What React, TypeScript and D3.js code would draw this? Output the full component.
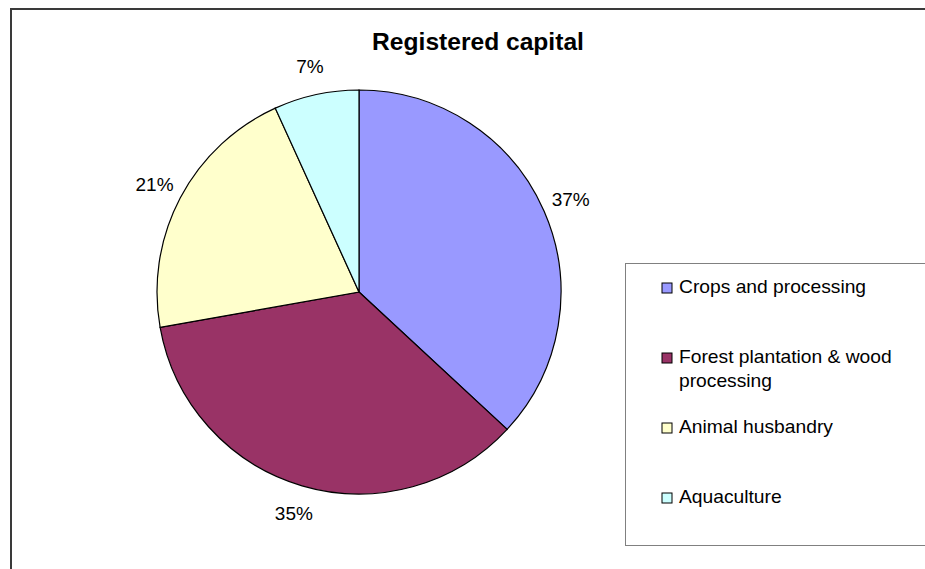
import React from "react";
import * as d3 from "d3";

const categories = ["Crops and processing", "Forest plantation & wood processing", "Animal husbandry", "Aquaculture"];
const values = [36.9, 35.3, 21.0, 6.8];
const labels = ["37%", "35%", "21%", "7%"];
const colors = ["#9999FF", "#993366", "#FFFFCC", "#CCFFFF"];
const legendLines = [["Crops and processing"], ["Forest plantation & wood", "processing"], ["Animal husbandry"], ["Aquaculture"]];

const W = 925;
const H = 569;
const cx = 359;
const cy = 292;
const R = 202;
const LR = 231;
const FONT = "Liberation Sans, Arial, Helvetica, sans-serif";

export default function App() {
  const pie = d3.pie<number>().sort(null).value((d) => d)(values);
  const arc = d3.arc<d3.PieArcDatum<number>>().innerRadius(0).outerRadius(R);
  const labelArc = d3.arc<d3.PieArcDatum<number>>().innerRadius(LR).outerRadius(LR);
  const legendY = [288, 358, 428, 498];

  return (
    <svg width={W} height={H} style={{ position: "absolute", left: 0, top: 0, background: "#fff" }} fontFamily={FONT}>
      <rect x={0} y={0} width={W} height={H} fill="#fff" />
      <rect x={11} y={9} width={W + 20} height={H + 20} fill="none" stroke="#3a3a3a" strokeWidth={2} />
      <text transform={`translate(478,50) scale(1.07,1)`} textAnchor="middle" fontSize={23} fontWeight="bold" fill="#000">
        Registered capital
      </text>
      <g transform={`translate(${cx},${cy})`}>
        {pie.map((p, i) => (
          <path key={i} d={arc(p) || ""} fill={colors[i]} stroke="#000" strokeWidth={1.2} />
        ))}
        {pie.map((p, i) => {
          const [x, y] = labelArc.centroid(p);
          return (
            <text key={i} x={x} y={y} dy="0.35em" textAnchor="middle" fontSize={19} fill="#000">
              {labels[i]}
            </text>
          );
        })}
      </g>
      <rect x={625.5} y={263.5} width={W} height={282} fill="#fff" stroke="#808080" strokeWidth={1} />
      {categories.map((c, i) => (
        <g key={c}>
          <rect x={662} y={legendY[i] - 5} width={10} height={10} fill={colors[i]} stroke="#000" strokeWidth={1} />
          {legendLines[i].map((ln, j) => (
            <text key={j} transform={`translate(679,${legendY[i] + 5 + j * 24}) scale(1.1,1)`} fontSize={17.5} fill="#000">
              {ln}
            </text>
          ))}
        </g>
      ))}
    </svg>
  );
}
